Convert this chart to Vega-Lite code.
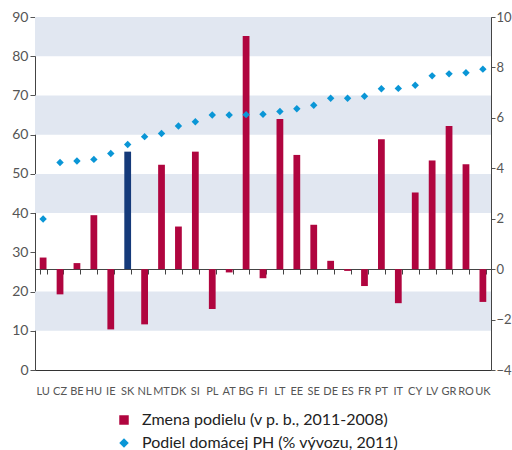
{
  "$schema": "https://vega.github.io/schema/vega-lite/v6.json",
  "width": 456,
  "height": 353,
  "autosize": {"type": "none"},
  "padding": {"left": 35, "top": 17, "right": 21, "bottom": 80},
  "config": {
    "view": {"stroke": "#a0a0a0", "strokeWidth": 1},
    "font": "Lato",
    "axis": {"grid": false, "labelColor": "#555555", "domainColor": "#555555", "tickColor": "#555555", "titleColor": "#555555"}
  },
  "datasets": {
    "countries": [
      {"country": "LU", "change": 0.46, "share": 38.5},
      {"country": "CZ", "change": -1.0, "share": 52.9},
      {"country": "BE", "change": 0.24, "share": 53.3},
      {"country": "HU", "change": 2.14, "share": 53.7},
      {"country": "IE", "change": -2.39, "share": 55.2},
      {"country": "SK", "change": 4.66, "share": 57.5},
      {"country": "NL", "change": -2.19, "share": 59.5},
      {"country": "MT", "change": 4.14, "share": 60.3},
      {"country": "DK", "change": 1.69, "share": 62.2},
      {"country": "SI", "change": 4.66, "share": 63.3},
      {"country": "PL", "change": -1.58, "share": 65.0},
      {"country": "AT", "change": -0.13, "share": 65.0},
      {"country": "BG", "change": 9.25, "share": 65.1},
      {"country": "FI", "change": -0.36, "share": 65.2},
      {"country": "LT", "change": 5.95, "share": 65.9},
      {"country": "EE", "change": 4.53, "share": 66.6},
      {"country": "SE", "change": 1.76, "share": 67.5},
      {"country": "DE", "change": 0.33, "share": 69.3},
      {"country": "ES", "change": -0.07, "share": 69.3},
      {"country": "FR", "change": -0.67, "share": 69.8},
      {"country": "PT", "change": 5.15, "share": 71.7},
      {"country": "IT", "change": -1.35, "share": 71.8},
      {"country": "CY", "change": 3.04, "share": 72.6},
      {"country": "LV", "change": 4.31, "share": 75.0},
      {"country": "GR", "change": 5.68, "share": 75.5},
      {"country": "RO", "change": 4.16, "share": 75.8},
      {"country": "UK", "change": -1.30, "share": 76.7}
    ],
    "bands": [
      {"lo": 80, "hi": 90},
      {"lo": 60, "hi": 70},
      {"lo": 40, "hi": 50},
      {"lo": 10, "hi": 20}
    ]
  },
  "layer": [
    {
      "data": {"name": "bands"},
      "mark": {"type": "rect", "color": "#E1E7F1"},
      "encoding": {
        "y": {"field": "lo", "type": "quantitative", "scale": {"domain": [0, 90], "nice": false}, "axis": null},
        "y2": {"field": "hi"}
      }
    },
    {
      "data": {"name": "countries"},
      "mark": {"type": "bar"},
      "encoding": {
        "x": {
          "field": "country", "type": "nominal", "sort": null,
          "scale": {"paddingInner": 0.6, "paddingOuter": 0.28},
          "axis": {"title": null, "labels": false, "orient": "bottom", "offset": -101, "tickBand": "extent", "domainColor": "#444444", "tickColor": "#444444", "tickSize": 5}
        },
        "y": {
          "field": "change", "type": "quantitative",
          "scale": {"domain": [-4, 10], "nice": false},
          "axis": {"orient": "right", "title": null, "values": [-4, -2, 0, 2, 4, 6, 8, 10], "tickSize": 4, "labelPadding": 1, "labelFontSize": 13, "domainColor": "#444444"}
        },
        "color": {
          "condition": {"test": "datum.country === 'SK'", "value": "#153A7A"},
          "datum": "Zmena podielu (v p. b., 2011-2008)",
          "type": "nominal",
          "scale": {"domain": ["Zmena podielu (v p. b., 2011-2008)", "Podiel domácej PH (% vývozu, 2011)"], "range": ["#B0053F", "#0A96D6"]},
          "legend": {
            "title": null, "orient": "none", "legendX": 81, "legendY": 395, "direction": "vertical",
            "labelFontSize": 16, "labelColor": "#222222", "labelLimit": 0, "symbolSize": 90, "rowPadding": 7, "labelOffset": 10,
            "symbolStrokeWidth": 0, "symbolOpacity": 1,
            "encode": {"symbols": {"update": {"shape": {"signal": "datum.label === 'Zmena podielu (v p. b., 2011-2008)' ? 'square' : 'diamond'"}}}}
          }
        }
      }
    },
    {
      "data": {"name": "countries"},
      "mark": {"type": "point", "shape": "diamond", "filled": true, "size": 55, "opacity": 1},
      "encoding": {
        "x": {
          "field": "country", "type": "nominal", "sort": null,
          "axis": {"title": null, "orient": "bottom", "ticks": false, "labelAngle": 0, "labelFontSize": 11, "labelPadding": 15, "labelOverlap": false, "domainColor": "#333333", "labelColor": "#555555"}
        },
        "y": {
          "field": "share", "type": "quantitative",
          "scale": {"domain": [0, 90], "nice": false},
          "axis": {"orient": "left", "title": null, "values": [0, 10, 20, 30, 40, 50, 60, 70, 80, 90], "tickSize": 5, "labelPadding": 2, "labelFontSize": 14, "domainColor": "#444444"}
        },
        "color": {"datum": "Podiel domácej PH (% vývozu, 2011)", "type": "nominal"}
      }
    }
  ],
  "resolve": {"scale": {"y": "independent"}, "axis": {"x": "independent", "y": "independent"}}
}
